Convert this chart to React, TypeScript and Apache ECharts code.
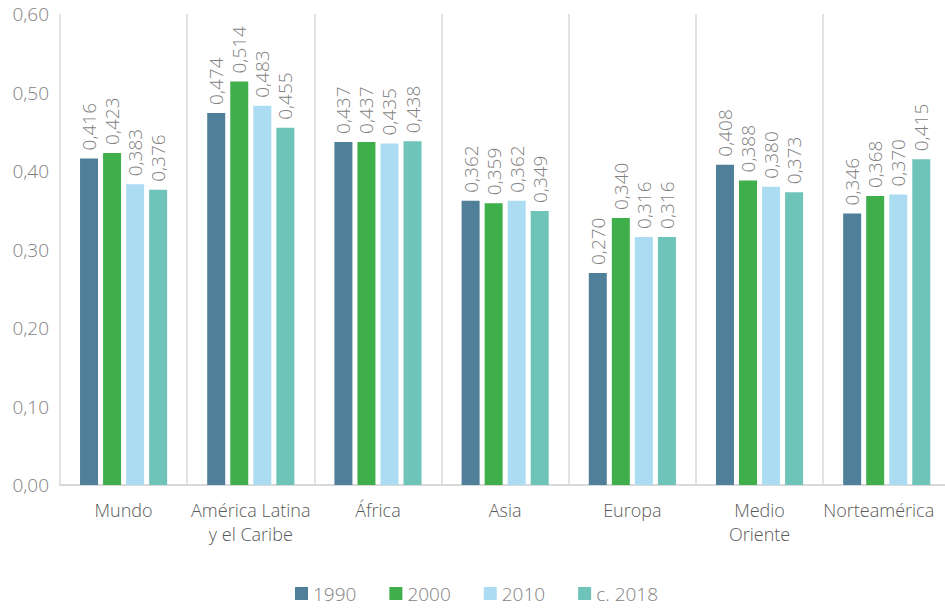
import React, { useEffect, useRef } from "react";
import * as echarts from "echarts";

const categories = ["Mundo", "América Latina\ny el Caribe", "África", "Asia", "Europa", "Medio\nOriente", "Norteamérica"];
const seriesNames = ["1990", "2000", "2010", "c. 2018"];
const v1990 = [0.416, 0.474, 0.437, 0.362, 0.27, 0.408, 0.346];
const v2000 = [0.423, 0.514, 0.437, 0.359, 0.34, 0.388, 0.368];
const v2010 = [0.383, 0.483, 0.435, 0.362, 0.316, 0.38, 0.37];
const v2018 = [0.376, 0.455, 0.438, 0.349, 0.316, 0.373, 0.415];
const colors = ["#4f7f99", "#3faf4c", "#abdcf1", "#6fc4ba"];

const fmt = (v: number, d: number) => v.toFixed(d).replace(".", ",");

export default function App() {
  const ref = useRef<HTMLDivElement>(null);
  useEffect(() => {
    const chart = echarts.init(ref.current!, null, { renderer: "svg" });
    const font = "Open Sans";
    const all = [v1990, v2000, v2010, v2018];
    const catData = categories.map((c, i) =>
      i === categories.length - 1 ? { value: c, textStyle: { padding: [0, 16, 0, 0] } } : c
    );
    chart.setOption({
      animation: false,
      textStyle: { fontFamily: font },
      grid: { left: 60, right: 0, top: 14, bottom: 123, containLabel: false },
      legend: {
        bottom: 0,
        left: 290,
        itemWidth: 13,
        itemHeight: 13,
        itemGap: 33,
        icon: "rect",
        textStyle: { fontSize: 19, color: "#7f7f7f", fontFamily: font, fontWeight: 300 },
        data: seriesNames,
      },
      xAxis: {
        type: "category",
        data: catData,
        axisLine: { show: true, lineStyle: { color: "#d9d9d9", width: 2 } },
        axisTick: { show: false },
        splitLine: { show: true, lineStyle: { color: "#d9d9d9", width: 1.5 } },
        axisLabel: { fontSize: 18, color: "#595959", margin: 13, lineHeight: 24, fontFamily: font, fontWeight: 300, interval: 0 },
      },
      yAxis: {
        type: "value",
        min: 0,
        max: 0.6,
        interval: 0.1,
        splitLine: { show: false },
        axisLine: { show: false },
        axisTick: { show: false },
        axisLabel: { fontSize: 19, color: "#7f7f7f", margin: 11, fontFamily: font, fontWeight: 300, formatter: (v: number) => fmt(v, 2) },
      },
      series: seriesNames.map((name, i) => ({
        name,
        type: "bar",
        data: all[i],
        barWidth: 18,
        barGap: "28%",
        itemStyle: { color: colors[i] },
        label: {
          show: true,
          position: "top",
          rotate: 90,
          align: "left",
          verticalAlign: "middle",
          distance: 8,
          fontSize: 19,
          color: "#7f7f7f",
          fontFamily: font,
          fontWeight: 300,
          formatter: (p: any) => fmt(p.value, 3),
        },
      })),
    });
    return () => chart.dispose();
  }, []);
  return (
    <div style={{ position: "fixed", left: 0, top: 0, width: 945, height: 608, overflow: "hidden", background: "#fff" }}>
      <div ref={ref} style={{ position: "absolute", left: 0, top: 0, width: 953, height: 608 }} />
    </div>
  );
}
